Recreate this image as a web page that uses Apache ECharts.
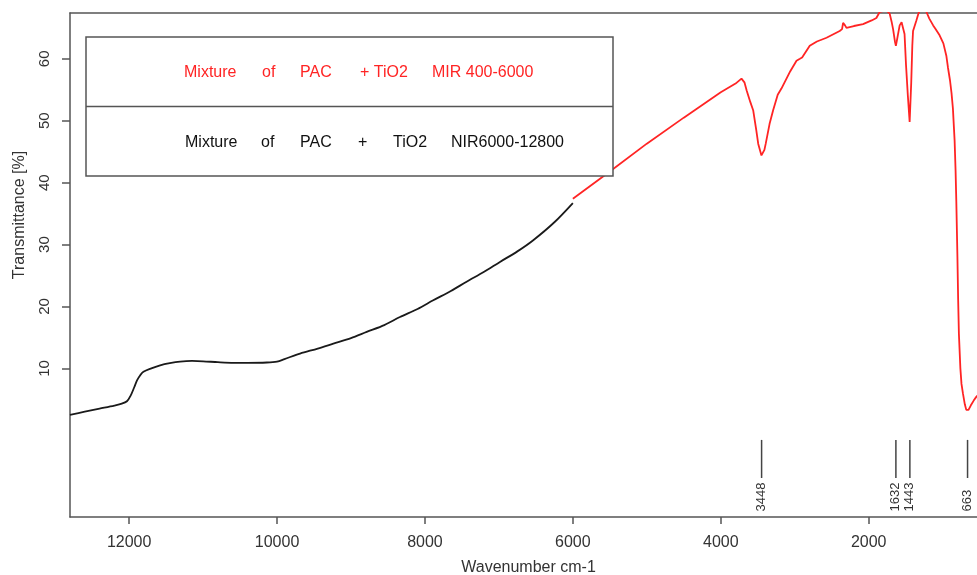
<!DOCTYPE html>
<html>
<head>
<meta charset="utf-8">
<script src="https://cdn.jsdelivr.net/npm/echarts@6/dist/echarts.min.js"></script>
<style>
  html, body { margin: 0; padding: 0; background: #fff; }
  #chart { width: 977px; height: 575px; }
</style>
</head>
<body>
<div id="chart"></div>
<script>
// NIR 6000-12800 (black curve)
const nirWavenumber = [12800, 12600, 12400, 12200, 12100, 12030, 11980, 11930, 11892, 11850, 11807, 11700, 11581, 11450, 11311, 11150, 11000, 10800, 10589, 10400, 10139, 10000, 9900, 9689, 9450, 9239, 9000, 8788, 8550, 8338, 8100, 7888, 7650, 7437, 7200, 6986, 6750, 6536, 6250, 6000];
const nirTransmittance = [2.5, 3.0, 3.5, 4.0, 4.3, 4.7, 5.6, 7.0, 8.1, 8.9, 9.45, 10.0, 10.5, 10.85, 11.1, 11.2, 11.15, 11.0, 10.9, 10.9, 10.95, 11.1, 11.5, 12.4, 13.2, 14.0, 14.9, 15.9, 17.0, 18.3, 19.6, 21.0, 22.5, 24.0, 25.6, 27.2, 28.9, 30.7, 33.6, 36.7];

// MIR 400-6000 (red curve)
const mirWavenumber = [6000, 5500, 5000, 4500, 4000, 3800, 3720, 3680, 3650, 3600, 3562, 3520, 3494, 3450, 3410, 3392, 3340, 3292, 3230, 3180, 3060, 2976, 2930, 2900, 2886, 2797, 2700, 2570, 2392, 2360, 2346, 2320, 2300, 2200, 2076, 1960, 1896, 1850, 1760, 1716, 1690, 1670, 1645, 1632, 1610, 1581, 1555, 1535, 1515, 1495, 1470, 1446, 1425, 1410, 1400, 1355, 1330, 1311, 1250, 1220, 1180, 1128, 1100, 1041, 990, 950, 928, 900, 880, 861, 850, 838, 825, 815, 800, 790, 780, 760, 745, 726, 700, 680, 666, 650, 620, 580, 545, 530];
const mirTransmittance = [37.4, 41.8, 46.3, 50.5, 54.6, 56.0, 56.8, 56.2, 54.9, 53.0, 51.7, 48.5, 46.3, 44.4, 45.3, 46.3, 49.5, 51.7, 54.2, 55.2, 58.0, 59.7, 60.0, 60.2, 60.5, 62.1, 62.8, 63.4, 64.5, 64.8, 65.8, 65.4, 65.0, 65.3, 65.6, 66.2, 66.6, 67.6, 67.8, 67.3, 66.0, 64.8, 62.8, 62.1, 63.5, 65.4, 65.9, 65.7, 64.0, 59.0, 54.0, 49.8, 56.0, 62.1, 64.5, 66.2, 67.2, 67.8, 68.0, 67.6, 66.5, 65.4, 64.9, 63.8, 62.5, 60.5, 58.6, 56.5, 54.5, 52.0, 49.5, 46.8, 42.0, 37.0, 28.0, 21.0, 15.6, 10.0, 7.5, 6.0, 4.2, 3.3, 3.0, 3.3, 4.0, 4.8, 5.4, 5.6];

// marked peaks
const peakPositions = [3448, 1632, 1443, 663];

const xTickValues = [2000, 4000, 6000, 8000, 10000, 12000];
const yTickValues = [10, 20, 30, 40, 50, 60];

const fontFamily = "'Liberation Sans', Arial, sans-serif";
const axisColor = '#555';
const red = '#ff2424';

const zip = (xs, ys) => xs.map((x, i) => [x, ys[i]]);

const chart = echarts.init(document.getElementById('chart'));

const option = {
  animation: false,
  backgroundColor: '#fff',
  grid: { left: 70, top: 13, bottom: 58, width: 917, containLabel: false, outerBoundsMode: 'none' },
  xAxis: [
    {
      type: 'value',
      inverse: true,
      min: 400,
      max: 12800,
      name: 'Wavenumber cm-1',
      nameLocation: 'middle',
      nameGap: 43,
      nameTextStyle: { fontSize: 16, color: '#333', fontFamily },
      axisLine: { onZero: false, lineStyle: { color: axisColor, width: 1.5 } },
      axisTick: { length: 7, lineStyle: { color: axisColor, width: 1.5 }, customValues: xTickValues },
      axisLabel: { fontSize: 16, color: '#333', margin: 18, fontFamily, customValues: xTickValues, formatter: v => String(v) },
      splitLine: { show: false }
    },
    {
      type: 'value',
      position: 'top',
      inverse: true,
      min: 400,
      max: 12800,
      axisLine: { onZero: false, lineStyle: { color: axisColor, width: 1.5 } },
      axisTick: { show: false },
      axisLabel: { show: false },
      splitLine: { show: false }
    }
  ],
  yAxis: {
    type: 'value',
    min: -14,
    max: 67.4,
    axisLine: { show: true, onZero: false, lineStyle: { color: axisColor, width: 1.5 } },
    axisTick: { show: true, length: 8, lineStyle: { color: axisColor, width: 1.5 }, customValues: yTickValues },
    axisLabel: { fontSize: 15, color: '#333', rotate: 90, margin: 18, fontFamily, customValues: yTickValues },
    splitLine: { show: false }
  },
  graphic: [
    {
      type: 'text', x: 20, y: 215, rotation: Math.PI / 2,
      style: { text: 'Transmittance [%]', fontSize: 16, fill: '#333', align: 'center', verticalAlign: 'middle', fontFamily }
    },
    {
      type: 'rect', shape: { x: 86, y: 37, width: 527, height: 139 },
      style: { fill: '#fff', stroke: axisColor, lineWidth: 1.5 }, z: 50
    },
    {
      type: 'line', shape: { x1: 86, y1: 106.5, x2: 613, y2: 106.5 },
      style: { stroke: axisColor, lineWidth: 1.5 }, z: 51
    },
    // legend row 1 (red)
    ...[['Mixture', 184], ['of', 262], ['PAC', 300], ['+ TiO2', 360], ['MIR 400-6000', 432]].map(([t, x]) => ({
      type: 'text', x, y: 73, z: 52,
      style: { text: t, fontSize: 16, fill: red, verticalAlign: 'middle', fontFamily }
    })),
    // legend row 2 (black)
    ...[['Mixture', 185], ['of', 261], ['PAC', 300], ['+', 358], ['TiO2', 393], ['NIR6000-12800', 451]].map(([t, x]) => ({
      type: 'text', x, y: 143, z: 52,
      style: { text: t, fontSize: 16, fill: '#111', verticalAlign: 'middle', fontFamily }
    }))
  ],
  series: [
    {
      name: 'NIR',
      type: 'line',
      data: zip(nirWavenumber, nirTransmittance),
      showSymbol: false,
      smooth: 0.3,
      clip: true,
      lineStyle: { color: '#1a1a1a', width: 1.8 },
      z: 3
    },
    {
      name: 'MIR',
      type: 'line',
      data: zip(mirWavenumber, mirTransmittance),
      showSymbol: false,
      clip: true,
      lineStyle: { color: red, width: 1.8 },
      z: 4
    },
    {
      name: 'peaks',
      type: 'custom',
      data: peakPositions.map(p => [p, 0]),
      renderItem: (params, api) => {
        const x = api.value(0);
        const top = api.coord([x, -1.55]);
        const bottom = api.coord([x, -7.7]);
        const lab = api.coord([x, -13.1]);
        return {
          type: 'group',
          children: [
            { type: 'line', shape: { x1: top[0], y1: top[1], x2: bottom[0], y2: bottom[1] },
              style: { stroke: '#444', lineWidth: 1.5 } },
            { type: 'text', x: lab[0], y: lab[1], rotation: Math.PI / 2,
              style: { text: String(x), fontSize: 13, fill: '#333', align: 'left', verticalAlign: 'middle', fontFamily } }
          ]
        };
      }
    }
  ]
};

chart.setOption(option);
window.addEventListener('resize', () => chart.resize());
</script>
</body>
</html>
